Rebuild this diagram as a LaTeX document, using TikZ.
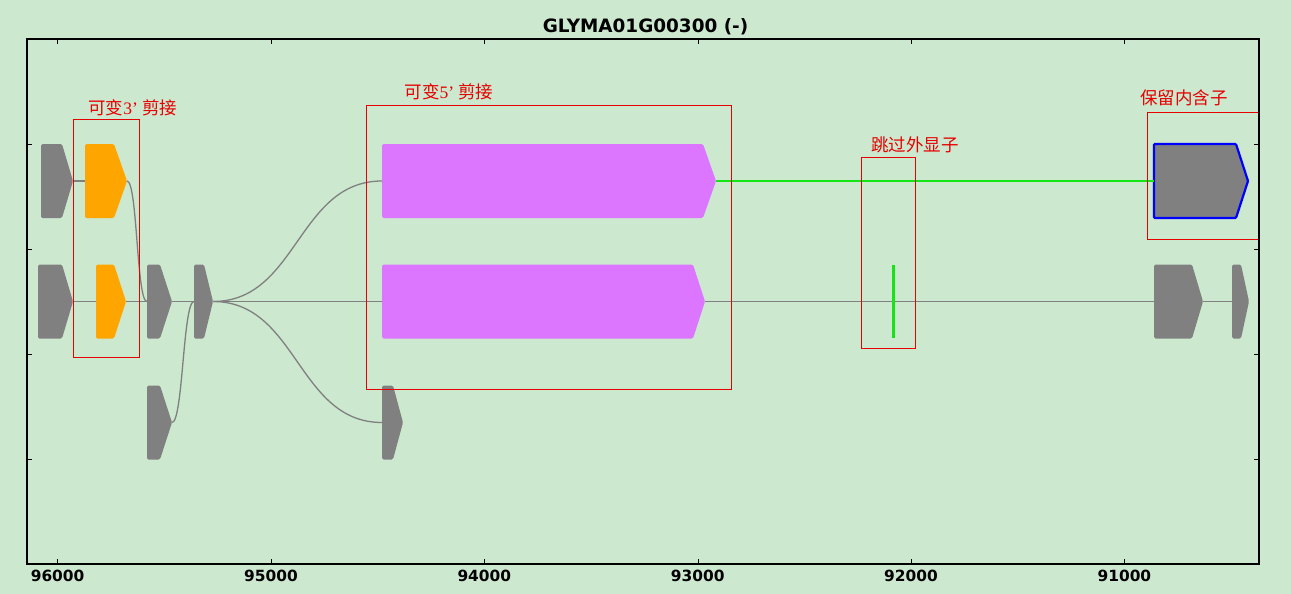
\documentclass[tikz,border=0pt]{standalone}
\usepackage{fontspec}
\setmainfont{DejaVu Sans}
\newfontfamily\cjk{Noto Sans CJK SC}
\newfontfamily\latinserif{Liberation Serif}
\definecolor{bgreen}{RGB}{204,232,207}
\definecolor{exongray}{RGB}{128,128,128}
\definecolor{exonorange}{RGB}{255,165,0}
\definecolor{exonpurple}{RGB}{220,117,255}
\definecolor{skipgreen}{RGB}{20,230,20}
\definecolor{markred}{RGB}{230,0,0}
% one exon: name, left, corner, tip, row, style
\newcommand{\drawexon}[6]{%
  \path[#6] (#2,#5-37) -- (#3,#5-37) -- (#4,#5) -- (#3,#5+37) -- (#2,#5+37) -- cycle;
  \coordinate (#1-l) at (#2,#5);
  \coordinate (#1-r) at (#4,#5);}
\begin{document}
\begin{tikzpicture}[x=1pt,y=-1pt,
  plain/.style={fill=exongray,rounded corners=1.5pt},
  alt/.style={fill=exonorange,rounded corners=1.5pt},
  long/.style={fill=exonpurple,rounded corners=1.5pt},
  kept/.style={fill=exongray,draw=blue,line width=2.2pt,rounded corners=1pt},
  intron/.style={draw=exongray,line width=1.3pt},
  markbox/.style={draw=markred,line width=0.9pt},
  marklabel/.style={text=markred,inner sep=0pt,font=\cjk\fontsize{17.5}{20}\selectfont},
  ticklabel/.style={font=\bfseries\fontsize{15.4}{18}\selectfont,anchor=base}]
\fill[bgreen] (0,0) rectangle (1291,594);
\useasboundingbox (0,0) rectangle (1291,594);

\node[font=\bfseries\fontsize{18.4}{20}\selectfont,anchor=base] (title) at (645.5,32.3) {GLYMA01G00300 (-)};

% row 1
\drawexon{ga}{41}{62}{73}{181}{plain}
\drawexon{oa}{85}{114}{127}{181}{alt}
\drawexon{pa}{382}{703}{716}{181}{long}
\drawexon{ka}{1154}{1236}{1248}{181}{kept}
% row 2
\drawexon{gb}{38}{62}{73}{301.5}{plain}
\drawexon{ob}{96}{114}{126}{301.5}{alt}
\drawexon{hb}{147}{160}{172}{301.5}{plain}
\drawexon{jb}{194}{204}{213}{301.5}{plain}
\drawexon{pb}{382}{693}{705}{301.5}{long}
\drawexon{kb}{1154}{1192}{1203}{301.5}{plain}
\drawexon{lb}{1232}{1241}{1249}{301.5}{plain}
% row 3
\drawexon{hc}{147}{160}{172}{422.5}{plain}
\drawexon{pc}{382}{393}{403}{422.5}{plain}

\draw[intron] (ga-r) -- (oa-l);
\draw[intron] (oa-r) .. controls +(10.5,0) and +(-10.5,0) .. (hb-l);
\draw[intron] (jb-r) .. controls +(84.5,0) and +(-84.5,0) .. (pa-l);
\draw[draw=skipgreen,line width=1.3pt] (pa-r) -- (ka-l);

\draw[intron] (gb-r) -- (ob-l);
\draw[intron] (ob-r) -- (hb-l);
\draw[intron] (hb-r) -- (jb-l);
\draw[intron] (jb-r) -- (pb-l);
\draw[intron] (pb-r) -- (kb-l);
\draw[intron] (kb-r) -- (lb-l);

\draw[intron] (hc-r) .. controls +(11,0) and +(-11,0) .. (jb-l);
\draw[intron] (jb-r) .. controls +(84.5,0) and +(-84.5,0) .. (pc-l);

\draw[skipgreen,line width=3pt] (893,265) -- (893,338);

% event boxes
\draw[markbox] (73.3,119.3) rectangle (139.3,357.3);
\draw[markbox] (366.3,105.3) rectangle (731.3,389);
\draw[markbox] (861.3,157.3) rectangle (915.7,348.3);
\draw[markbox] (1147.3,112.3) rectangle (1259,239.3);
\node[marklabel] (alt3) at (132.8,108) {可变{\latinserif 3’ }剪接};
\node[marklabel] (alt5) at (449,91.7) {可变{\latinserif 5’ }剪接};
\node[marklabel] (skip) at (914.8,145) {跳过外显子};
\node[marklabel] (keep) at (1184,98.3) {保留内含子};

% axes
\draw[line width=1.3pt] (27,39) rectangle (1259,564);
\foreach \x/\lab in {57.6/96000,271/95000,484.3/94000,697.7/93000,911/92000,1124.4/91000}{
  \draw (\x,564) -- (\x,559);
  \draw (\x,39) -- (\x,44);
  \node[ticklabel] (t\lab) at (\x,581) {\lab};
}
\foreach \y in {144,249,354,459}{
  \draw (27,\y) -- (32,\y);
  \draw (1259,\y) -- (1254,\y);
}
\end{tikzpicture}
\end{document}
